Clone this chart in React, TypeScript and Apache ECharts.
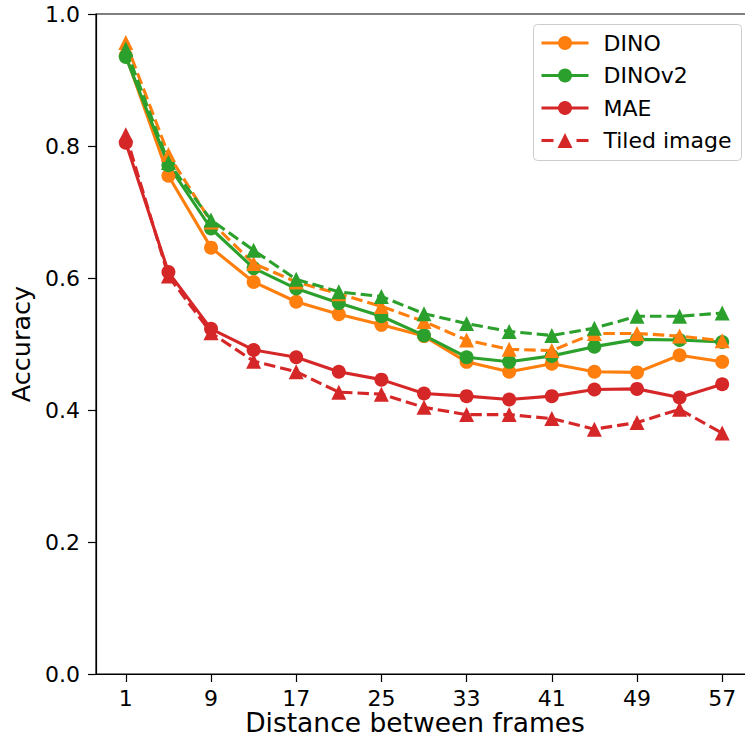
import React, { useEffect, useRef } from "react";
import * as echarts from "echarts";

const distances = [1, 5, 9, 13, 17, 21, 25, 29, 33, 37, 41, 45, 49, 53, 57];
const xTickLabels = [1, 9, 17, 25, 33, 41, 49, 57];
const yTickValues = [0, 0.2, 0.4, 0.6, 0.8, 1.0];

const dino = [0.937, 0.755, 0.646, 0.594, 0.564, 0.545, 0.529, 0.512, 0.473, 0.458, 0.470, 0.458, 0.457, 0.483, 0.473];
const dinoTiled = [0.957, 0.787, 0.685, 0.622, 0.594, 0.576, 0.557, 0.534, 0.506, 0.492, 0.490, 0.516, 0.516, 0.512, 0.505];
const dinov2 = [0.935, 0.771, 0.675, 0.615, 0.584, 0.562, 0.542, 0.513, 0.480, 0.473, 0.482, 0.496, 0.507, 0.506, 0.503];
const dinov2Tiled = [0.947, 0.775, 0.688, 0.642, 0.598, 0.579, 0.572, 0.546, 0.531, 0.519, 0.513, 0.524, 0.542, 0.542, 0.547];
const mae = [0.805, 0.609, 0.523, 0.491, 0.480, 0.458, 0.446, 0.425, 0.421, 0.416, 0.421, 0.431, 0.432, 0.419, 0.439];
const maeTiled = [0.817, 0.603, 0.517, 0.474, 0.458, 0.427, 0.424, 0.404, 0.393, 0.393, 0.387, 0.371, 0.381, 0.401, 0.365];

const legendLabels = ["DINO", "DINOv2", "MAE", "Tiled image"];

const ORANGE = "#ff7f0e";
const GREEN = "#2ca02c";
const RED = "#d62728";
const FONT = "DejaVu Sans";

const LW = 3.1;
const DASH = [11.5, 5];

function pairs(vals: number[]) {
  return distances.map((d, i) => [d, vals[i]]);
}

function lineSeries(name: string, vals: number[], color: string, tiled: boolean) {
  return {
    type: "line",
    name,
    data: pairs(vals),
    symbol: tiled ? "triangle" : "circle",
    symbolSize: tiled ? 15 : 14,
    showSymbol: true,
    lineStyle: { color, width: LW, type: tiled ? DASH : "solid" },
    itemStyle: { color },
    z: tiled ? 3 : 2,
  };
}

export default function App() {
  const ref = useRef<HTMLDivElement>(null);
  useEffect(() => {
    if (!ref.current) return;
    const chart = echarts.init(ref.current, undefined, { renderer: "svg" });
    const legendColors = [ORANGE, GREEN, RED, RED];
    const rowY = [18.5, 51, 83.5, 116];
    const legendChildren: any[] = [
      {
        type: "rect",
        shape: { x: 0, y: 0, width: 208, height: 136, r: 4 },
        style: { fill: "rgba(255,255,255,0.8)", stroke: "#cccccc", lineWidth: 1 },
      },
    ];
    legendLabels.forEach((lab, i) => {
      const y = rowY[i];
      const c = legendColors[i];
      if (i < 3) {
        legendChildren.push({
          type: "line",
          shape: { x1: 8, y1: y, x2: 55, y2: y },
          style: { stroke: c, lineWidth: LW },
        });
        legendChildren.push({
          type: "circle",
          shape: { cx: 31.5, cy: y, r: 7 },
          style: { fill: c },
        });
      } else {
        legendChildren.push({
          type: "line",
          shape: { x1: 8, y1: y, x2: 20, y2: y },
          style: { stroke: c, lineWidth: LW },
        });
        legendChildren.push({
          type: "line",
          shape: { x1: 43, y1: y, x2: 55, y2: y },
          style: { stroke: c, lineWidth: LW },
        });
        legendChildren.push({
          type: "polygon",
          shape: { points: [[31.5, y - 7.5], [24, y + 7.5], [39, y + 7.5]] },
          style: { fill: c },
        });
      }
      legendChildren.push({
        type: "text",
        x: 70,
        y,
        style: { text: lab, fontSize: 22, fontFamily: FONT, fill: "#000", verticalAlign: "middle", align: "left" },
      });
    });

    chart.setOption({
      animation: false,
      backgroundColor: "#ffffff",
      grid: {
        left: 96,
        top: 14,
        width: 656,
        height: 660,
        show: true,
        borderColor: "#000",
        borderWidth: 1.2,
        backgroundColor: "transparent",
        outerBoundsMode: "none",
        containLabel: false,
      },
      xAxis: {
        type: "value",
        min: -1.8,
        max: 59.8,
        name: "Distance between frames",
        nameLocation: "middle",
        nameGap: 35,
        nameMoveOverlap: false,
        nameTextStyle: { fontSize: 26.5, lineHeight: 26, fontFamily: FONT, color: "#000", padding: [0, 18, 0, 0] },
        axisLine: { show: true, onZero: false, lineStyle: { color: "#000", width: 1.2 } },
        axisTick: { show: true, length: 8, lineStyle: { color: "#000", width: 1.2 }, customValues: xTickLabels },
        axisLabel: { fontSize: 22, lineHeight: 20, fontFamily: FONT, color: "#000", margin: 14, customValues: xTickLabels },
        splitLine: { show: false },
      },
      yAxis: {
        type: "value",
        min: 0,
        max: 1,
        interval: 0.2,
        name: "Accuracy",
        nameLocation: "middle",
        nameGap: 62,
        nameRotate: 90,
        nameMoveOverlap: false,
        nameTextStyle: { fontSize: 25.5, fontFamily: FONT, color: "#000" },
        axisLine: { show: true, onZero: false, lineStyle: { color: "#000", width: 1.2 } },
        axisTick: { show: true, length: 8, lineStyle: { color: "#000", width: 1.2 } },
        axisLabel: {
          fontSize: 22,
          fontFamily: FONT,
          color: "#000",
          margin: 16,
          formatter: (v: number) => v.toFixed(1),
          customValues: yTickValues,
        },
        splitLine: { show: false },
      },
      series: [
        lineSeries("DINO", dino, ORANGE, false),
        lineSeries("DINO (tiled)", dinoTiled, ORANGE, true),
        lineSeries("DINOv2", dinov2, GREEN, false),
        lineSeries("DINOv2 (tiled)", dinov2Tiled, GREEN, true),
        lineSeries("MAE", mae, RED, false),
        lineSeries("Tiled image", maeTiled, RED, true),
      ],
      graphic: [
        {
          type: "group",
          left: 533,
          top: 24,
          z: 100,
          children: legendChildren,
        },
      ],
    });
    return () => chart.dispose();
  }, []);
  return (
    <div
      ref={ref}
      style={{ position: "absolute", left: 0, top: 0, width: 745, height: 737, background: "#fff" }}
    />
  );
}
